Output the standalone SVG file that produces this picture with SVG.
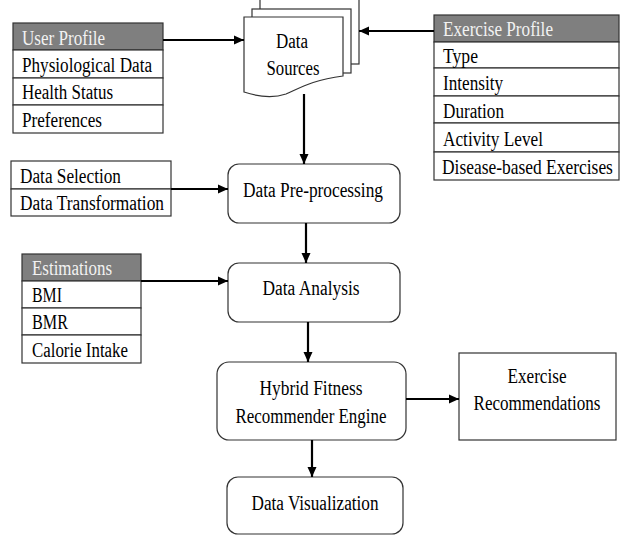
<svg xmlns="http://www.w3.org/2000/svg" width="627" height="535" viewBox="0 0 627 535" font-family="'Liberation Serif', 'Times New Roman', serif">
<defs>
<marker id="ah" markerUnits="userSpaceOnUse" markerWidth="10" markerHeight="10" refX="10" refY="5" orient="auto">
<path d="M0,0.5 L10,5 L0,9.5 z" fill="#000"/>
</marker>
<style>
.box{fill:#fff;stroke:#333;stroke-width:1.2}
.hdr{fill:#7f7f7f;stroke:#333;stroke-width:1.2}
text{font-family:"Liberation Serif","Times New Roman",serif;font-size:20px;fill:#000}
.ht{fill:#f2f2f2}
.c{text-anchor:middle}
.con line{stroke:#000;stroke-width:2.2;marker-end:url(#ah)}
</style>
</defs>
<rect width="627" height="535" fill="#fff"/>

<g id="data-sources">
<rect class="box" x="260" y="-1" width="99" height="65"/>
<rect class="box" x="252" y="9" width="99" height="64"/>
<path class="box" d="M244,17 H343 V76 C312,80 300,88 286,94 C271,99 256,96 244,92 Z"/>
<text class="c" x="292" y="48" textLength="32" lengthAdjust="spacingAndGlyphs">Data</text>
<text class="c" x="293" y="75" textLength="53" lengthAdjust="spacingAndGlyphs">Sources</text>
</g>

<g id="user-profile">
<rect class="hdr" x="13" y="23" width="150" height="27"/>
<rect class="box" x="13" y="50" width="150" height="28"/>
<rect class="box" x="13" y="78" width="150" height="27"/>
<rect class="box" x="13" y="105" width="150" height="28"/>
<text class="ht" x="22" y="45" textLength="83" lengthAdjust="spacingAndGlyphs">User Profile</text>
<text x="22" y="72" textLength="130" lengthAdjust="spacingAndGlyphs">Physiological Data</text>
<text x="22" y="99" textLength="91" lengthAdjust="spacingAndGlyphs">Health Status</text>
<text x="22" y="127" textLength="80" lengthAdjust="spacingAndGlyphs">Preferences</text>
</g>

<g id="exercise-profile">
<rect class="hdr" x="434" y="15" width="185" height="27"/>
<rect class="box" x="434" y="42" width="185" height="26"/>
<rect class="box" x="434" y="68" width="185" height="28"/>
<rect class="box" x="434" y="96" width="185" height="27"/>
<rect class="box" x="434" y="123" width="185" height="29"/>
<rect class="box" x="434" y="152" width="185" height="28"/>
<text class="ht" x="443" y="36" textLength="110" lengthAdjust="spacingAndGlyphs">Exercise Profile</text>
<text x="443" y="63" textLength="35" lengthAdjust="spacingAndGlyphs">Type</text>
<text x="443" y="90" textLength="60" lengthAdjust="spacingAndGlyphs">Intensity</text>
<text x="443" y="118" textLength="61" lengthAdjust="spacingAndGlyphs">Duration</text>
<text x="443" y="146" textLength="100" lengthAdjust="spacingAndGlyphs">Activity Level</text>
<text transform="translate(442 174) scale(0.872 1)" x="0" y="0" textLength="196" lengthAdjust="spacingAndGlyphs">Disease-based Exercises</text>
</g>

<g id="data-operations">
<rect class="box" x="11" y="161" width="160" height="28"/>
<rect class="box" x="11" y="189" width="160" height="27"/>
<text x="20" y="183" textLength="101" lengthAdjust="spacingAndGlyphs">Data Selection</text>
<text x="20" y="210" textLength="144" lengthAdjust="spacingAndGlyphs">Data Transformation</text>
</g>

<g id="estimations">
<rect class="hdr" x="22" y="254" width="119" height="27"/>
<rect class="box" x="22" y="281" width="119" height="27"/>
<rect class="box" x="22" y="308" width="119" height="27"/>
<rect class="box" x="22" y="335" width="119" height="28"/>
<text class="ht" x="32" y="275" textLength="80" lengthAdjust="spacingAndGlyphs">Estimations</text>
<text x="32" y="302" textLength="30" lengthAdjust="spacingAndGlyphs">BMI</text>
<text x="32" y="329" textLength="36" lengthAdjust="spacingAndGlyphs">BMR</text>
<text x="32" y="357" textLength="96" lengthAdjust="spacingAndGlyphs">Calorie Intake</text>
</g>

<g id="pre-processing">
<rect class="box" x="228" y="164" width="172" height="59" rx="11"/>
<text class="c" x="313" y="197" textLength="140" lengthAdjust="spacingAndGlyphs">Data Pre-processing</text>
</g>

<g id="data-analysis">
<rect class="box" x="228" y="263" width="172" height="59" rx="11"/>
<text class="c" x="311" y="295" textLength="97" lengthAdjust="spacingAndGlyphs">Data Analysis</text>
</g>

<g id="hybrid-engine">
<rect class="box" x="217" y="362" width="189" height="78" rx="12"/>
<text class="c" x="311" y="395" textLength="103" lengthAdjust="spacingAndGlyphs">Hybrid Fitness</text>
<text class="c" x="311" y="423" textLength="151" lengthAdjust="spacingAndGlyphs">Recommender Engine</text>
</g>

<g id="exercise-recommendations">
<rect class="box" x="459" y="353" width="157" height="87"/>
<text class="c" x="537" y="383" textLength="59" lengthAdjust="spacingAndGlyphs">Exercise</text>
<text class="c" x="537" y="410" textLength="127" lengthAdjust="spacingAndGlyphs">Recommendations</text>
</g>

<g id="data-visualization">
<rect class="box" x="227" y="477" width="176" height="57" rx="11"/>
<text class="c" x="315" y="510" textLength="127" lengthAdjust="spacingAndGlyphs">Data Visualization</text>
</g>

<g id="connectors" class="con">
<line x1="163" y1="40" x2="244" y2="40"/>
<line x1="434" y1="31" x2="359" y2="31"/>
<line x1="304" y1="94" x2="304" y2="164"/>
<line x1="171" y1="189" x2="228" y2="189"/>
<line x1="306" y1="223" x2="306" y2="263"/>
<line x1="141" y1="281" x2="228" y2="281"/>
<line x1="308" y1="322" x2="308" y2="362"/>
<line x1="406" y1="399" x2="459" y2="399"/>
<line x1="312" y1="440" x2="312" y2="477"/>
</g>
</svg>
